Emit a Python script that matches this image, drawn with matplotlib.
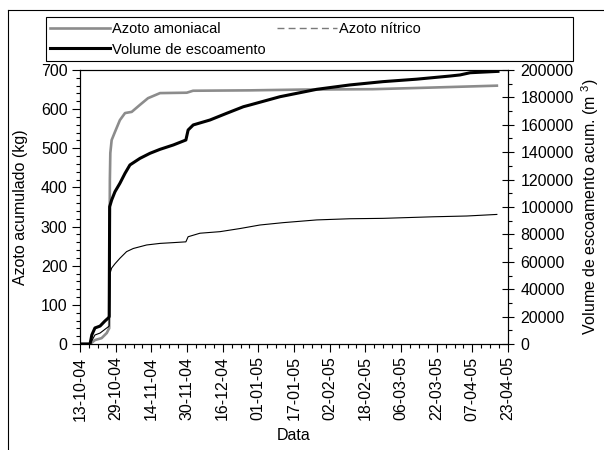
import datetime as dt
import matplotlib
matplotlib.use("Agg")
import matplotlib.pyplot as plt
import matplotlib.dates as mdates
from matplotlib.lines import Line2D
from matplotlib.patches import Rectangle
from matplotlib.ticker import MultipleLocator

plt.rcParams['font.family'] = ['Liberation Sans', 'DejaVu Sans']
plt.rcParams['mathtext.fontset'] = 'custom'
plt.rcParams['mathtext.rm'] = 'Liberation Sans'
plt.rcParams['mathtext.it'] = 'Liberation Sans'

start_date = dt.datetime(2004, 10, 13)

# day offsets from start_date and values
amon_days = [0, 4.5, 6.7, 9.7, 12.0, 12.7, 13.1, 13.4, 13.6, 14.2, 15.7, 17.9, 20.2,
             23.2, 26.9, 30.5, 35.9, 47.9, 50.7, 76.3, 100, 131.4, 157, 187]
amon_kg = [0, 0, 10, 15, 28, 36, 40, 420, 488, 521, 542, 572, 590,
           593, 611, 628, 641, 642, 647, 648, 650, 651, 655, 660]

nitr_days = [0, 4.5, 6.7, 9.0, 12.7, 13.1, 13.5, 14.2, 15.7, 17.9, 20.9, 23.9, 29.9,
             35.9, 41.9, 47.5, 48.5, 53.8, 62.8, 71.8, 80.7, 91.1, 106.2, 121.1,
             135.9, 158.4, 173.5, 187]
nitr_kg = [0, 0, 23, 28, 44, 46, 181, 194, 205, 219, 236, 244, 253,
           257, 259, 261, 274, 283, 287, 295, 304, 310, 317, 320,
           321, 325, 327, 331]

vol_days = [0, 4.5, 5.3, 6.7, 9.0, 11.2, 12.7, 13.1, 13.3, 14.2, 15.7, 17.9, 20.2,
            22.4, 26.9, 31.4, 35.9, 41.9, 47.5, 48.5, 50.8, 58.3, 65.8, 73.3,
            76.3, 89.7, 106.2, 121.1, 135.9, 151, 166, 170.5, 175, 187.5]
vol_m3 = [0, 0, 6600, 11700, 13100, 16800, 19000, 20000, 100200, 105100, 111200, 117300, 124600,
          130700, 135500, 139200, 142100, 145300, 148900, 156200, 159900, 163500, 168400, 173200,
          174500, 180500, 185900, 189100, 191500, 193300, 195600, 196400, 198000, 199000]

x_ticks_days = list(range(0, 193, 16))

labels = ["Azoto amoniacal", "Azoto nítrico", "Volume de escoamento"]


def to_dates(days):
    return [start_date + dt.timedelta(days=d) for d in days]


fig = plt.figure(figsize=(6.04, 4.5), dpi=100)
ax = fig.add_axes([80 / 604, 1 - 344 / 450, 428 / 604, 274 / 450])
ax2 = ax.twinx()

l_amon, = ax.plot(to_dates(amon_days), amon_kg, color='#8c8c8c', lw=1.9)
l_nitr, = ax.plot(to_dates(nitr_days), nitr_kg, color='black', lw=0.8)
l_vol, = ax2.plot(to_dates(vol_days), vol_m3, color='black', lw=2.2)

ax.set_xlim(start_date, start_date + dt.timedelta(days=192))
ax.set_ylim(0, 700)
ax2.set_ylim(0, 200000)

ax.set_xticks(to_dates(x_ticks_days))
ax.xaxis.set_major_formatter(mdates.DateFormatter('%d-%m-%y'))
ax.set_xticks(to_dates(range(0, 193, 4)), minor=True)
for lab in ax.get_xticklabels():
    lab.set_rotation(90)

ax.yaxis.set_major_locator(MultipleLocator(100))
ax.yaxis.set_minor_locator(MultipleLocator(20))
ax2.yaxis.set_major_locator(MultipleLocator(20000))
ax2.yaxis.set_minor_locator(MultipleLocator(10000))

ax.tick_params(axis='both', which='major', direction='out', length=6, width=0.8,
               labelsize=11.5, pad=3)
ax.tick_params(axis='both', which='minor', direction='out', length=3, width=0.8)
ax2.tick_params(axis='y', which='major', direction='inout', length=8, width=0.8,
                labelsize=11.5, pad=5)
ax2.tick_params(axis='y', which='minor', direction='out', length=3, width=0.8)

for a in (ax, ax2):
    for s in a.spines.values():
        s.set_linewidth(0.8)
        s.set_color('black')

ax.set_ylabel("Azoto acumulado (kg)", fontsize=11.5, labelpad=9)
ax2.set_ylabel("Volume de escoamento acum. (m $^{3}$)", fontsize=11.5, labelpad=4)
ax.set_xlabel("Data", fontsize=11.5, labelpad=5)

# legend
h_amon = Line2D([], [], color='#8c8c8c', lw=1.9)
h_nitr = Line2D([], [], color='#7a7a7a', lw=1.0, linestyle=(0, (5, 3)))
h_vol = Line2D([], [], color='black', lw=2.2)
leg = fig.legend([h_amon, h_vol, h_nitr], [labels[0], labels[2], labels[1]],
                 ncol=2, frameon=False, fontsize=10.5,
                 loc='upper left', bbox_to_anchor=(50 / 604, 1 - 22 / 450),
                 handlelength=4.1, handletextpad=0.15, columnspacing=0.8,
                 labelspacing=0.45, borderaxespad=0, borderpad=0.0)
fig.add_artist(Rectangle((46 / 604, 1 - 61 / 450), 527 / 604, 44 / 450,
                         transform=fig.transFigure, fill=False, lw=0.8,
                         edgecolor='black'))
# outer frame
fig.add_artist(Line2D([8 / 604, 8 / 604], [0, 1 - 10 / 450], transform=fig.transFigure,
                      color='black', lw=0.8))
fig.add_artist(Line2D([8 / 604, 1], [1 - 10 / 450, 1 - 10 / 450], transform=fig.transFigure,
                      color='black', lw=0.8))

fig.savefig("out.png", dpi=100)
